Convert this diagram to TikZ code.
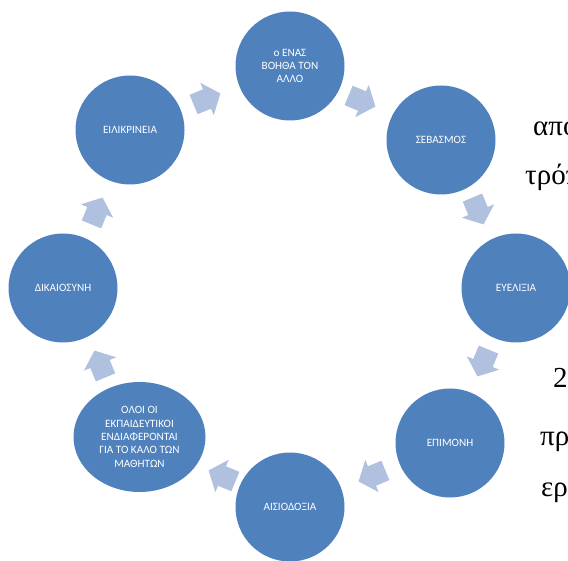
\documentclass[tikz,border=0pt]{standalone}
\usepackage{fontspec}
\newfontfamily\lblfont{Carlito}
\newfontfamily\docfont{Liberation Serif}
\usetikzlibrary{shapes.geometric}
\definecolor{nodeblue}{HTML}{4F81BD}
\definecolor{arrowblue}{HTML}{AFC1DE}
\tikzset{
  stage/.style={circle, fill=nodeblue, draw=none, minimum size=109pt,
    inner sep=0pt, text=white, align=center,
    font=\lblfont\fontsize{11.2}{13.3}\selectfont},
  wide stage/.style={stage, ellipse, minimum width=132pt, minimum height=110pt},
  flowarrow/.pic={
    \fill[arrowblue] (-14.5,-10.5) -- (0,-10.5) -- (0,-17.5) -- (14.5,0)
      -- (0,17.5) -- (0,10.5) -- (-14.5,10.5) -- cycle;
  },
  bodytext/.style={anchor=base west, inner sep=0pt, text=black,
    font=\docfont\fontsize{29}{34}\selectfont}
}
\begin{document}
\begin{tikzpicture}[x=1pt, y=-1pt]
\useasboundingbox (0,0) rectangle (568,561);
\clip (0,0) rectangle (568,561);

% running text of the page behind the diagram
\node[bodytext] (t1) at (533,136) {απο};
\node[bodytext] (t2) at (525,185) {τρόπ};
\node[bodytext] (t3) at (553,388) {2};
\node[bodytext] (t4) at (540,446) {πρ};
\node[bodytext] (t5) at (541,496) {ερ};

% cycle stages
\node[stage] (help)  at (290,66)  {ο ΕΝΑΣ\\ΒΟΗΘΑ ΤΟΝ\\ΑΛΛΟ};
\node[stage] (resp)  at (441,140) {ΣΕΒΑΣΜΟΣ};
\node[stage] (flex)  at (516,288) {ΕΥΕΛΙΞΙΑ};
\node[stage] (pers)  at (450,443) {ΕΠΙΜΟΝΗ};
\node[stage] (opt)   at (290,507) {ΑΙΣΙΟΔΟΞΙΑ};
\node[wide stage] (care) at (139.5,437) {ΟΛΟΙ ΟΙ\\ΕΚΠΑΙΔΕΥΤΙΚΟΙ\\ΕΝΔΙΑΦΕΡΟΝΤΑΙ\\ΓΙΑ ΤΟ ΚΑΛΟ ΤΩΝ\\ΜΑΘΗΤΩΝ};
\node[stage] (just)  at (63,288)  {ΔΙΚΑΙΟΣΥΝΗ};
\node[stage] (hon)   at (130,130) {ΕΙΛΙΚΡΙΝΕΙΑ};

% block arrows between stages, clockwise
\pic[rotate=22.5]   (a1) at (207,99)  {flowarrow};
\pic[rotate=-22.5]  (a2) at (362,101) {flowarrow};
\pic[rotate=-67.5]  (a3) at (478,211) {flowarrow};
\pic[rotate=-112.5] (a4) at (483,363) {flowarrow};
\pic[rotate=-157.5] (a5) at (372,476) {flowarrow};
\pic[rotate=157.5]  (a6) at (222,476) {flowarrow};
\pic[rotate=112.5]  (a7) at (100,364) {flowarrow};
\pic[rotate=67.5]   (a8) at (97,211)  {flowarrow};
\end{tikzpicture}
\end{document}
